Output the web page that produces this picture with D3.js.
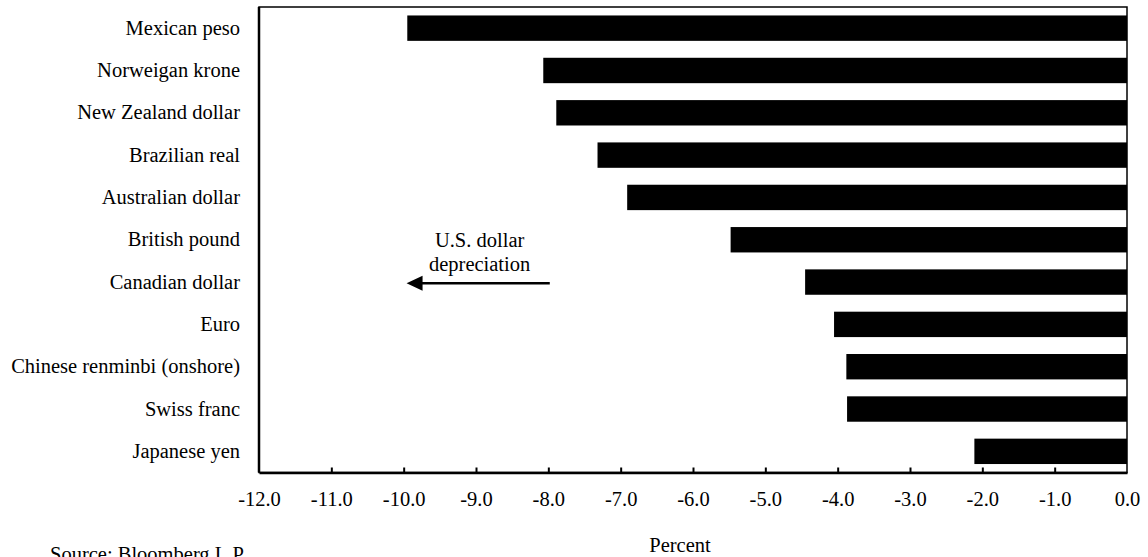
<!DOCTYPE html>
<html>
<head>
<meta charset="utf-8">
<script src="https://cdn.jsdelivr.net/npm/d3@7"></script>
<style>
  html, body { margin: 0; padding: 0; background: #fff; }
  svg { display: block; }
  text { font-family: "Liberation Serif", "DejaVu Serif", serif; fill: #000; }
</style>
</head>
<body>
<svg id="chart" width="1148" height="557"></svg>
<script>
const categories = [
  "Mexican peso",
  "Norweigan krone",
  "New Zealand dollar",
  "Brazilian real",
  "Australian dollar",
  "British pound",
  "Canadian dollar",
  "Euro",
  "Chinese renminbi (onshore)",
  "Swiss franc",
  "Japanese yen"
];
const values = [-9.95, -8.07, -7.89, -7.32, -6.91, -5.48, -4.45, -4.05, -3.88, -3.87, -2.11];
const xTicks = [-12, -11, -10, -9, -8, -7, -6, -5, -4, -3, -2, -1, 0];
const xTitle = "Percent";
const sourceNote = "Source: Bloomberg L.P.";
const annotationLines = ["U.S. dollar", "depreciation"];

(function () {
const svg = d3.select("#chart");
const mL = 259, mR = 1127, mT = 7, mB = 472.5;
const fs = 20.5;

const x = d3.scaleLinear().domain([-12, 0]).range([mL, mR]);
const y = d3.scaleBand().domain(categories).range([mT, mB]).paddingInner(0.4).paddingOuter(0.2);

// bars
svg.append("g").selectAll("rect").data(values).join("rect")
  .attr("x", d => x(d))
  .attr("y", (d, i) => y(categories[i]))
  .attr("width", d => x(0) - x(d))
  .attr("height", y.bandwidth())
  .attr("fill", "#000");

// frame
svg.append("rect")
  .attr("x", mL).attr("y", mT)
  .attr("width", mR - mL).attr("height", mB - mT)
  .attr("fill", "none").attr("stroke", "#000").attr("stroke-width", 1.5);

// x axis
const xAxis = d3.axisBottom(x).tickValues(xTicks).tickFormat(d => d3.format(".1f")(d).replace("\u2212", "-"))
  .tickSizeInner(-5).tickSizeOuter(0).tickPadding(19);
const gx = svg.append("g").attr("transform", `translate(0,${mB})`).call(xAxis);
gx.select(".domain").attr("stroke", "#000").attr("stroke-width", 2.5);
gx.selectAll(".tick line").attr("stroke", "#000").attr("stroke-width", 2)
  .attr("display", d => (d === -12 || d === 0) ? "none" : null);
gx.selectAll(".tick text").attr("font-size", fs).attr("font-family", "Liberation Serif").attr("fill", "#000");

// left axis line
svg.append("line").attr("x1", mL).attr("x2", mL).attr("y1", mT).attr("y2", mB)
  .attr("stroke", "#000").attr("stroke-width", 2.5);

// y labels
const yAxis = d3.axisLeft(y).tickSize(0).tickPadding(19);
const gy = svg.append("g").attr("transform", `translate(${mL},0)`).call(yAxis);
gy.select(".domain").remove();
gy.selectAll(".tick text").attr("font-size", fs).attr("font-family", "Liberation Serif").attr("fill", "#000");

// annotation
const ann = svg.append("g");
annotationLines.forEach((t, i) => {
  ann.append("text").attr("x", x(-8.95)).attr("y", 247 + i * 23.5)
    .attr("text-anchor", "middle").attr("font-size", fs).text(t);
});
const ay = 283.3;
ann.append("line").attr("x1", x(-7.98)).attr("x2", x(-9.75)).attr("y1", ay).attr("y2", ay)
  .attr("stroke", "#000").attr("stroke-width", 2.5);
const tip = x(-9.96);
ann.append("path")
  .attr("d", `M${tip},${ay} L${tip + 16},${ay - 7.5} L${tip + 16},${ay + 7.5} Z`)
  .attr("fill", "#000");

// titles
svg.append("text").attr("x", 680).attr("y", 551.5).attr("text-anchor", "middle")
  .attr("font-size", fs).text(xTitle);
svg.append("text").attr("x", 50).attr("y", 561)
  .attr("font-size", fs).text(sourceNote);
})();
</script>
</body>
</html>
